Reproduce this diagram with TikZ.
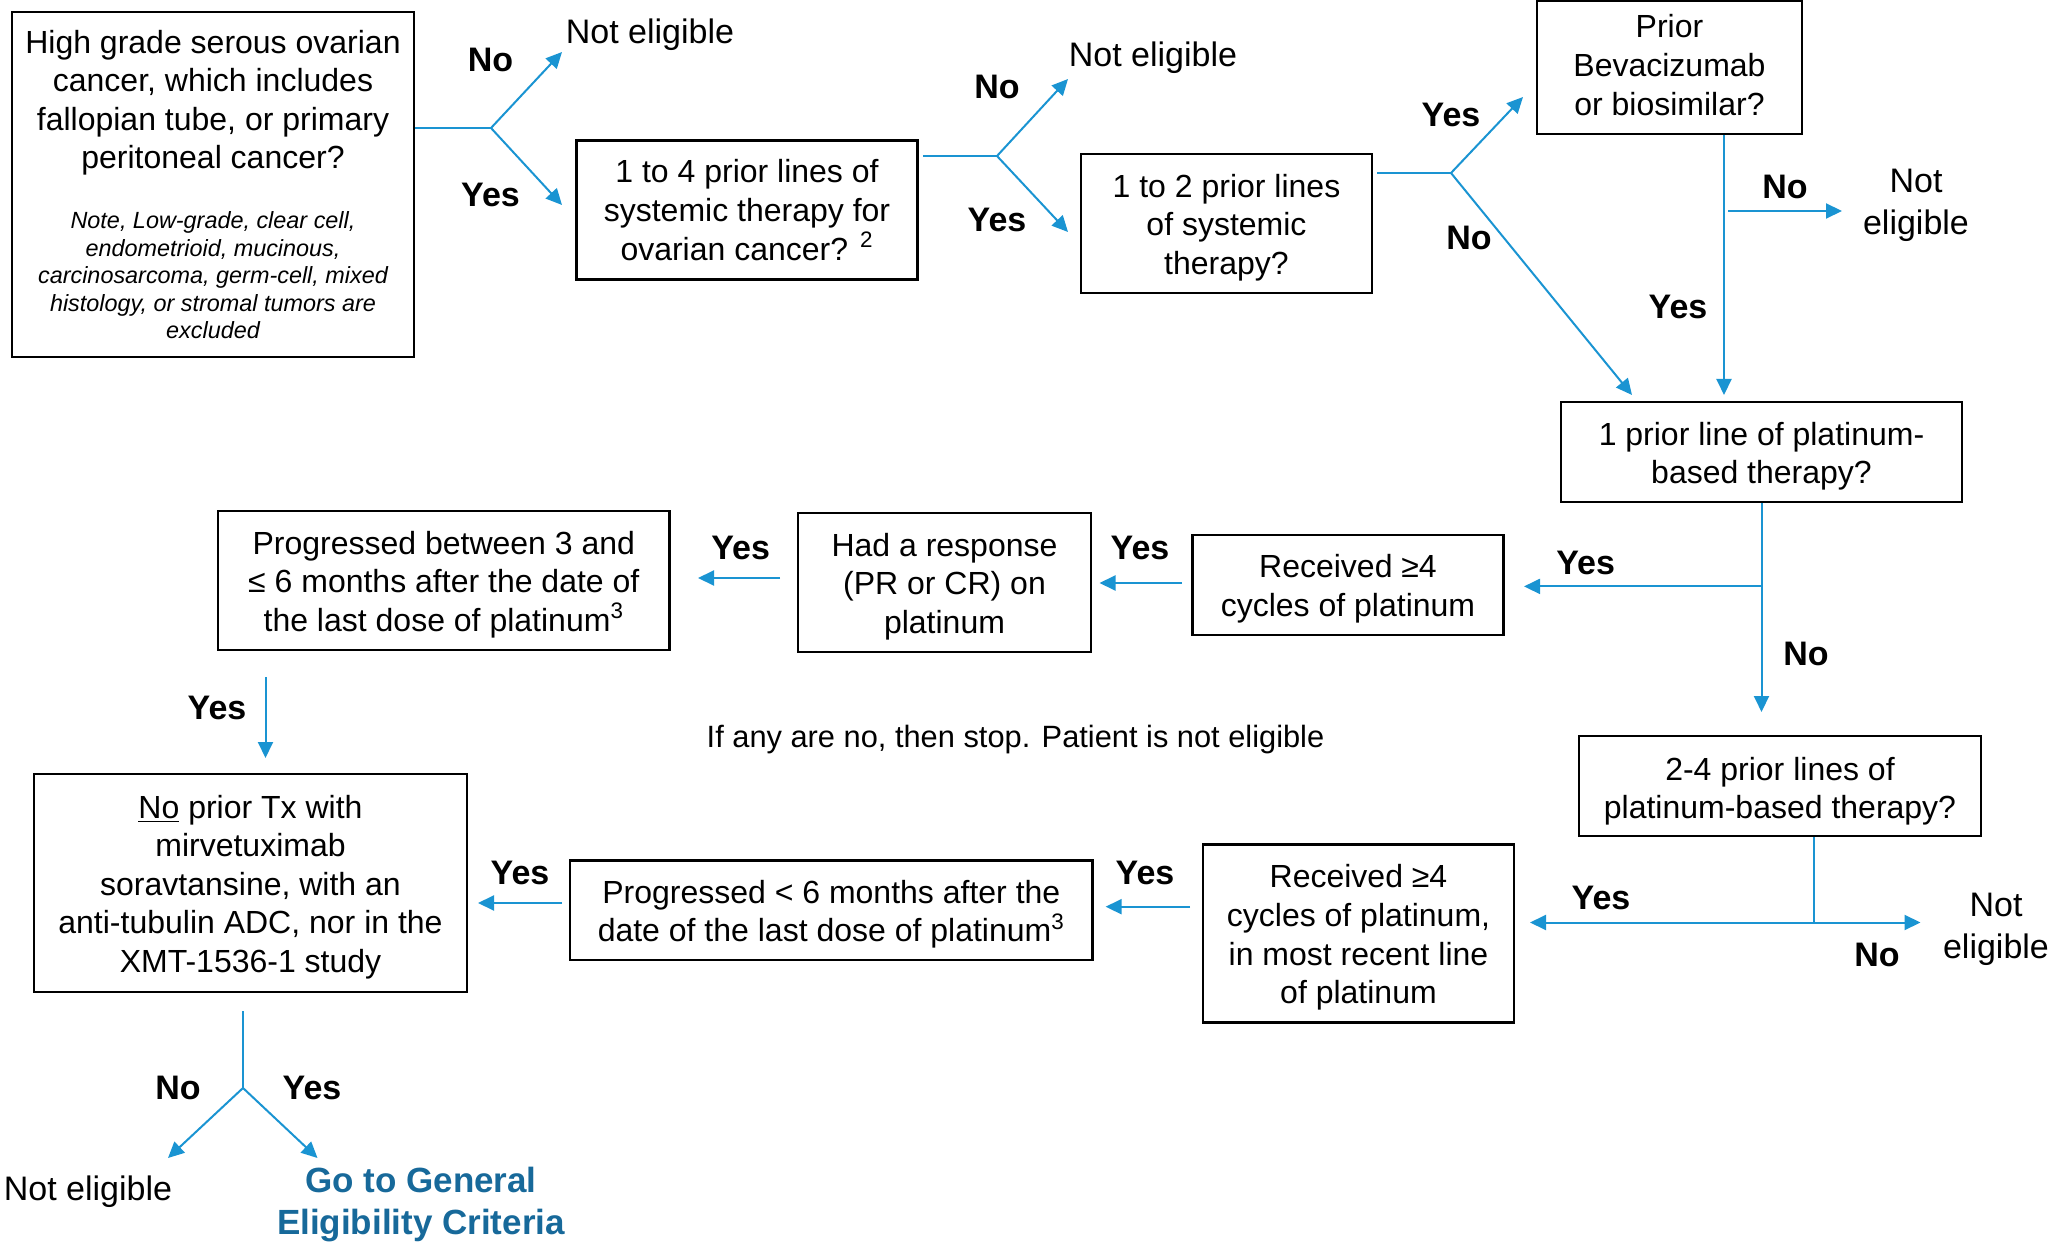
\documentclass[tikz,border=0pt]{standalone}
\usepackage{fontspec}
\setmainfont{Liberation Sans}
\usetikzlibrary{arrows.meta,calc}
\setlength{\parindent}{0pt}
\definecolor{arrowblue}{RGB}{26,148,210}
\definecolor{goblue}{RGB}{23,105,154}
\begin{document}
\begin{tikzpicture}[x=0.5pt,y=-0.5pt,
  box/.style={draw=black,line width=1.3pt,inner sep=0pt,align=flush center,
    font=\fontsize{16}{19.3}\selectfont},
  bx/.style 2 args={box,minimum width=#1,minimum height=#2,text width=#1},
  lower/.style={execute at begin node={\rule{0pt}{15.7pt}}},
  lab/.style={font=\fontsize{17}{20}\selectfont\bfseries,inner sep=0pt},
  ne/.style={font=\fontsize{17}{21}\selectfont,align=center,inner sep=0pt},
  ln/.style={draw=arrowblue,line width=1pt},
  arr/.style={ln,-{Triangle[length=8pt,width=7.5pt]}},
  darr/.style={ln,{Triangle[length=8pt,width=7.5pt]}-{Triangle[length=8pt,width=7.5pt]}}]
\useasboundingbox (0,0) rectangle (2063,1246);

% boxes
\node[bx={201pt}{172.5pt}] (b1) at (213,184.5) {High grade serous ovarian\\cancer, which includes\\fallopian tube, or primary\\peritoneal cancer?\par\vspace{16.25pt}{\fontsize{11.7}{13.75}\selectfont\itshape Note, Low-grade, clear cell,\\endometrioid, mucinous,\\carcinosarcoma, germ-cell, mixed\\histology, or stromal tumors are\\excluded\par}};
\node[bx={170.5pt}{69.5pt}] (b2) at (747,210) {1 to 4 prior lines of\\systemic therapy for\\ovarian cancer? \textsuperscript{2}};
\node[bx={145.5pt}{69.5pt},lower] (b3) at (1226.5,223.5) {1 to 2 prior lines\\of systemic\\therapy?};
\node[bx={132.5pt}{66.5pt}] (b4) at (1669.5,67.5) {Prior\\Bevacizumab\\or biosimilar?\rule[-2.6pt]{0pt}{0pt}};
\node[bx={200.5pt}{50pt},lower] (b5) at (1761.5,452) {1 prior line of platinum-\\based therapy?};
\node[bx={155.5pt}{50pt},lower] (b6) at (1348,584.8) {Received ≥4\\cycles of platinum};
\node[bx={146.5pt}{69.5pt},lower] (b7) at (944.5,582.5) {Had a response\\(PR or CR) on\\platinum};
\node[bx={225.75pt}{69.5pt},lower] (b8) at (443.8,580.5) {Progressed between 3 and\\≤ 6 months after the date of\\the last dose of platinum\textsuperscript{3}};
\node[bx={201pt}{50pt},execute at begin node={\rule{0pt}{17pt}}] (b9) at (1780,786) {2-4 prior lines of\\platinum-based therapy?};
\node[bx={155.5pt}{89pt},lower] (b10) at (1358.5,933.5) {Received ≥4\\cycles of platinum,\\in most recent line\\of platinum};
\node[bx={261.3pt}{49.6pt},lower] (b11) at (831.3,910.3) {Progressed {<} 6 months after the\\date of the last dose of platinum\textsuperscript{3}};
\node[bx={216.5pt}{109pt},lower] (b12) at (250.5,883) {\underline{No} prior Tx with\\mirvetuximab\\soravtansine, with an\\anti-tubulin ADC, nor in the\\XMT-1536-1 study};

% free texts
\node[ne] (n1) at (650,35) {Not eligible};
\node[ne] (n2) at (1153,58) {Not eligible};
\node[ne] (n4) at (1916,205) {Not\\eligible};
\node[ne] (n9) at (1996,929) {Not\\eligible};
\node[ne] (n12) at (88,1192) {Not eligible};
\node[font=\fontsize{15.4}{18}\selectfont,inner sep=0pt] (stop) at (1015.5,740) {If any are no, then stop. Patient is not eligible};
\node[font=\fontsize{17.5}{21}\selectfont\bfseries,text=goblue,align=center,inner sep=0pt] (go) at (421,1205) {Go to General\\Eligibility Criteria};

% coordinates
\coordinate (j1) at (491,128);
\coordinate (e1n) at (562,52);
\coordinate (e1y) at (562,205);
\coordinate (j2) at (997,156);
\coordinate (e2n) at (1068,79);
\coordinate (e2y) at (1068,232);
\coordinate (j3) at (1451,173);
\coordinate (e3y) at (1523,97);
\coordinate (e3n) at (1632,395);
\coordinate (v4) at (1724,395);
\coordinate (e4) at (1842,211);
\coordinate (t5) at (1761.5,712);
\coordinate (y5) at (1524,586.4);
\coordinate (s6) at (1182,583);
\coordinate (f6) at (1099.5,583);
\coordinate (s7) at (780,578);
\coordinate (f7) at (698,578);
\coordinate (s8) at (265.5,677);
\coordinate (f8) at (265.5,758);
\coordinate (v9) at (1814,922.5);
\coordinate (l9) at (1530,922.5);
\coordinate (r9) at (1920.5,922.5);
\coordinate (s10) at (1190,906.7);
\coordinate (f10) at (1105.6,906.7);
\coordinate (s11) at (562,903);
\coordinate (f11) at (478,903);
\coordinate (s12) at (243,1011);
\coordinate (j12) at (243,1088);
\coordinate (e12n) at (168,1158);
\coordinate (e12y) at (317.5,1158);

% connectors
\draw[ln] (b1.east |- j1) -- (j1);
\draw[arr] (j1) -- (e1n);
\draw[arr] (j1) -- (e1y);
\draw[ln] ([xshift=2pt]b2.east |- j2) -- (j2);
\draw[arr] (j2) -- (e2n);
\draw[arr] (j2) -- (e2y);
\draw[ln] ([xshift=2pt]b3.east |- j3) -- (j3);
\draw[arr] (j3) -- (e3y);
\draw[arr] (j3) -- (e3n);
\draw[arr] (v4 |- b4.south) -- (v4);
\draw[arr] ([xshift=2pt]v4 |- e4) -- (e4);
\draw[arr] (b5.south) -- (t5);
\draw[arr] (b5.south |- y5) -- (y5);
\draw[arr] (s6) -- (f6);
\draw[arr] (s7) -- (f7);
\draw[arr] (s8) -- (f8);
\draw[ln] (v9 |- b9.south) -- (v9);
\draw[darr] (l9) -- (r9);
\draw[arr] (s10) -- (f10);
\draw[arr] (s11) -- (f11);
\draw[ln] (s12) -- (j12);
\draw[arr] (j12) -- (e12n);
\draw[arr] (j12) -- (e12y);

% labels
\node[lab] (l1n) at (490.5,60) {No};
\node[lab] (l1y) at (490.5,195) {Yes};
\node[lab] (l2n) at (997,87) {No};
\node[lab] (l2y) at (997,220) {Yes};
\node[lab] (l3y) at (1451,115) {Yes};
\node[lab] (l3n) at (1469,238) {No};
\node[lab] (l4n) at (1785,187) {No};
\node[lab] (l4y) at (1678,307) {Yes};
\node[lab] (l5y) at (1585.6,562.5) {Yes};
\node[lab] (l5n) at (1806,653.6) {No};
\node[lab] (l6y) at (1140,548) {Yes};
\node[lab] (l7y) at (740.6,548) {Yes};
\node[lab] (l8y) at (217,708) {Yes};
\node[lab] (l9y) at (1601,898) {Yes};
\node[lab] (l9n) at (1877,955) {No};
\node[lab] (l10y) at (1145,873) {Yes};
\node[lab] (l11y) at (520,873) {Yes};
\node[lab] (l12n) at (178,1088) {No};
\node[lab] (l12y) at (312,1088) {Yes};
\end{tikzpicture}
\end{document}
